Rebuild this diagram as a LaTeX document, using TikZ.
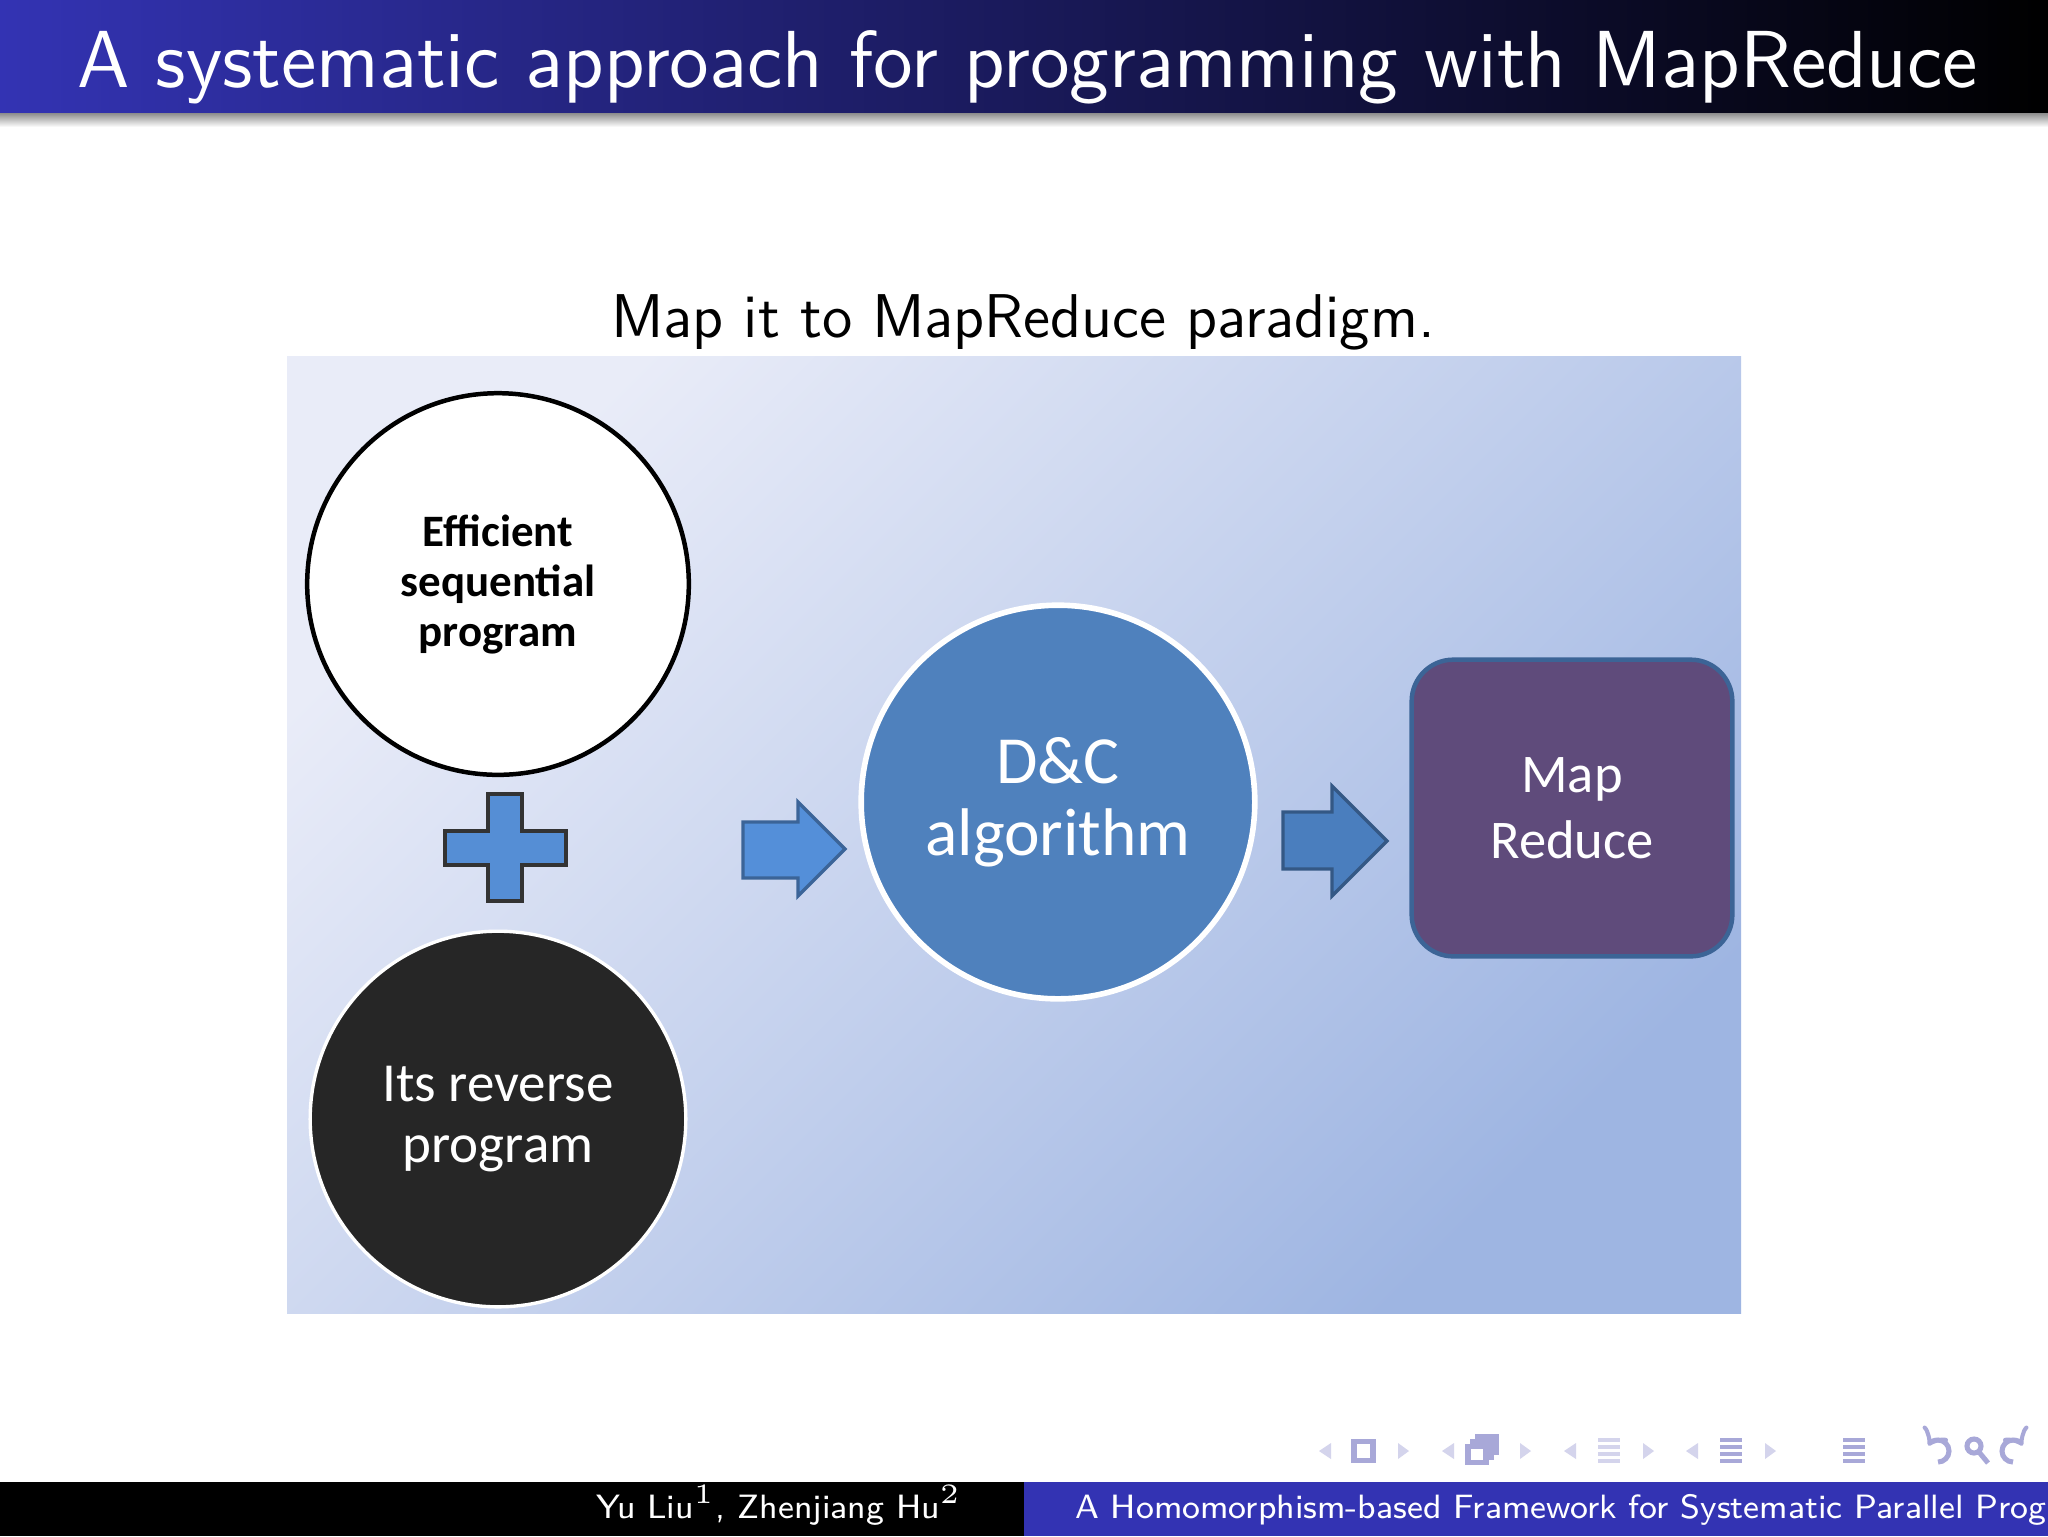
\documentclass[tikz,border=0pt]{standalone}
\usepackage{fontspec}
\newfontfamily\calibri{Carlito}
\usetikzlibrary{positioning, calc}
\definecolor{beamerblue}{RGB}{51,51,179}
\definecolor{picTL}{RGB}{233,236,248}
\definecolor{picMID}{RGB}{203,214,238}
\definecolor{picBR}{RGB}{158,181,226}
\definecolor{plusblue}{RGB}{85,142,213}
\definecolor{arrowlight}{RGB}{84,143,217}
\definecolor{arrowdark}{RGB}{74,126,190}
\definecolor{dcblue}{RGB}{79,129,189}
\definecolor{mrpurple}{RGB}{95,75,123}
\definecolor{mredge}{RGB}{60,100,150}
\definecolor{revgray}{RGB}{38,38,38}
\definecolor{navpale}{RGB}{212,212,236}
\definecolor{navdeep}{RGB}{168,168,216}

\begin{document}
\begin{tikzpicture}[x=0.00625cm, y=-0.00625cm,
    bubble/.style={circle, inner sep=0pt, align=center},
    blockarrow/.style={line width=0.6pt, line join=miter},
    navtri/.style={fill=navpale},
    navicon/.style={draw=navdeep, line width=0.9pt}]

\useasboundingbox (0,0) rectangle (2048,1536);
\fill[white] (0,0) rectangle (2048,1536);

\shade[left color=beamerblue, right color=black] (0,0) rectangle (2048,113);
\shade[top color=black!45, bottom color=white] (0,113) rectangle (2048,127);
\node[anchor=base west, inner sep=0pt, text=white, font=\sffamily\fontsize{14.4}{17}\selectfont] (title) at (76,87) {A systematic approach for programming with MapReduce};

\node[anchor=base, inner sep=0pt, font=\sffamily\fontsize{11}{13.6}\selectfont] (subtitle) at (1023,337) {Map it to MapReduce paradigm.};

\shade[top color=picTL, middle color=picMID, bottom color=picBR, shading angle=45] (287,356) rectangle (1741,1313);

\node[bubble, fill=white, draw=black, line width=0.8pt, minimum size=2.3875cm, font=\calibri\bfseries\fontsize{8}{8.9}\selectfont] (seq) at (498,584) {Efficient\\sequential\\program};
\node[bubble, fill=revgray, draw=white, line width=0.6pt, minimum size=2.35cm, text=white, font=\calibri\fontsize{9.8}{10.8}\selectfont] (rev) at (498,1119) {Its reverse\\program};
\node[bubble, fill=dcblue, draw=white, line width=1pt, minimum size=2.4625cm, text=white, font=\calibri\fontsize{12}{12.8}\selectfont] (dc) at (1058,802) {D\&C\\algorithm};
\node[rectangle, rounded corners=0.26cm, fill=mrpurple, draw=mredge, line width=0.8pt, minimum width=2.006cm, minimum height=1.856cm, align=center, text=white, font=\calibri\fontsize{9.7}{11.7}\selectfont] (mr) at (1572,808) {Map\\Reduce};

\draw[blockarrow, fill=plusblue, draw=black!80] (488,794) -- (522,794) -- (522,831) -- (566,831) -- (566,865) -- (522,865) -- (522,901) -- (488,901) -- (488,865) -- (445,865) -- (445,831) -- (488,831) -- cycle;

\draw[blockarrow, fill=arrowlight, draw=arrowlight!70!black] (743,822) -- (798,822) -- (798,802) -- (845,849) -- (798,896) -- (798,878) -- (743,878) -- cycle;
\draw[blockarrow, fill=arrowdark, draw=arrowdark!70!black] (1283,812) -- (1332,812) -- (1332,786) -- (1387,841) -- (1332,896) -- (1332,869) -- (1283,869) -- cycle;

\foreach \x in {1319,1442,1564,1686}
  \fill[navtri] (\x+12,1443) -- (\x,1451) -- (\x+12,1459) -- cycle;
\foreach \x in {1398,1520,1643,1765}
  \fill[navtri] (\x,1443) -- (\x+11,1451) -- (\x,1459) -- cycle;
\draw[navicon] (1354,1441) rectangle (1373,1460);
\draw[navicon] (1478,1436) rectangle (1496,1452);
\draw[navicon, fill=white] (1473,1441) rectangle (1491,1457);
\draw[navicon, fill=white] (1468,1446) rectangle (1486,1462);
\foreach \x/\c in {1598/navpale,1720/navdeep,1843/navdeep}{
  \foreach \y in {1440,1447,1454,1461}
    \draw[draw=\c, line width=0.7pt] (\x,\y) -- (\x+22,\y);
}
\draw[navicon, ->] (1938,1462) arc (90:-150:11);
\draw[navicon] (1974,1446) circle (7);
\draw[navicon] (1979,1452) -- (1988,1463);
\draw[navicon, ->] (2013,1462) arc (90:330:11);

\fill[black] (0,1482) rectangle (1024,1536);
\fill[beamerblue] (1024,1482) rectangle (2048,1536);
\node[anchor=base east, inner sep=0pt, text=white, font=\sffamily\fontsize{6}{7.5}\selectfont] (authors) at (963,1518) {Yu Liu$^1$, Zhenjiang Hu$^2$};
\node[anchor=base west, inner sep=0pt, text=white, font=\sffamily\fontsize{6}{7.5}\selectfont] (talk) at (1074,1518) {A Homomorphism-based Framework for Systematic Parallel Prog};

\end{tikzpicture}
\end{document}
